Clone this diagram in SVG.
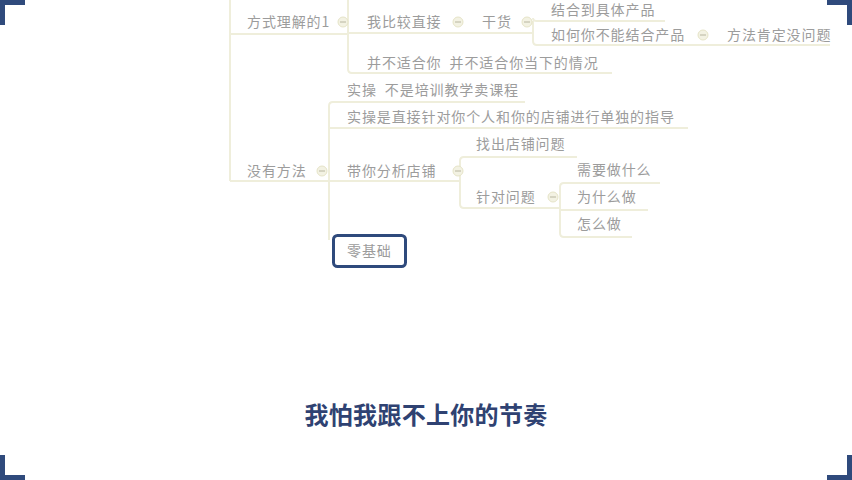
<svg xmlns="http://www.w3.org/2000/svg" width="852" height="480" viewBox="0 0 852 480">
<style>
.t{font-family:"Noto Sans CJK SC","Noto Sans",sans-serif;font-size:14px;fill:#9c9c9c;letter-spacing:0.9px;white-space:pre}
.ln{fill:none;stroke:#efeedb;stroke-width:2}
.c{fill:#f3f2e3;stroke:#e6e4c8;stroke-width:1}
.cm{stroke:#b8b6a0;stroke-width:1}
.br{fill:#2f4a7c}
</style>
<rect width="852" height="480" fill="#ffffff"/>
<g id="corners">
<path class="br" d="M0 0H25V5H5V25H0Z"/>
<path class="br" d="M852 0H827V5H847V25H852Z"/>
<path class="br" d="M0 480H25V475H5V455H0Z"/>
<path class="br" d="M852 480H827V475H847V455H852Z"/>
</g>
<g id="connectors">
<path class="ln" d="M230 0V181"/>
<path class="ln" d="M230 34H348"/>
<path class="ln" d="M348 0V69Q348 73 352 73H612"/>
<path class="ln" d="M348 33H533"/>
<path class="ln" d="M533 18Q533 21 537 21H665"/>
<path class="ln" d="M533 21V41Q533 45 537 45H830"/>
<path class="ln" d="M230 181H329"/>
<path class="ln" d="M333 102H525"/>
<path class="ln" d="M329 106Q329 102 333 102"/>
<path class="ln" d="M329 106V240"/>
<path class="ln" d="M329 128H688"/>
<path class="ln" d="M329 181H460"/>
<path class="ln" d="M460 161Q460 157 464 157H577"/>
<path class="ln" d="M460 161V204Q460 208 464 208H560"/>
<path class="ln" d="M560 187Q560 183 564 183H660"/>
<path class="ln" d="M560 187V233Q560 237 564 237H632"/>
<path class="ln" d="M560 210H648"/>
</g>
<g id="toggles">
<circle class="c" cx="343" cy="22" r="5"/><path class="cm" d="M340 22H346"/>
<circle class="c" cx="458" cy="22" r="5"/><path class="cm" d="M455 22H461"/>
<circle class="c" cx="527" cy="22" r="5"/><path class="cm" d="M524 22H530"/>
<circle class="c" cx="703" cy="35" r="5"/><path class="cm" d="M700 35H706"/>
<circle class="c" cx="322" cy="171" r="5"/><path class="cm" d="M319 171H325"/>
<circle class="c" cx="458" cy="171" r="5"/><path class="cm" d="M455 171H461"/>
<circle class="c" cx="553" cy="197" r="5"/><path class="cm" d="M550 197H556"/>
</g>
<g id="n1"><text class="t" x="247" y="27">方式理解的1</text></g>
<g id="n2"><text class="t" x="367" y="27">我比较直接</text></g>
<g id="n3"><text class="t" x="482" y="27">干货</text></g>
<g id="n4"><text class="t" x="551" y="15">结合到具体产品</text></g>
<g id="n5"><text class="t" x="551" y="40">如何你不能结合产品</text></g>
<g id="n6"><text class="t" x="727" y="40">方法肯定没问题</text></g>
<g id="n7"><text class="t" x="367" y="68" xml:space="preserve">并不适合你  并不适合你当下的情况</text></g>
<g id="n8"><text class="t" x="347" y="95" xml:space="preserve">实操  不是培训教学卖课程</text></g>
<g id="n9"><text class="t" x="347" y="122">实操是直接针对你个人和你的店铺进行单独的指导</text></g>
<g id="n10"><text class="t" x="247" y="176">没有方法</text></g>
<g id="n11"><text class="t" x="347" y="176">带你分析店铺</text></g>
<g id="n12"><text class="t" x="476" y="149">找出店铺问题</text></g>
<g id="n13"><text class="t" x="476" y="202">针对问题</text></g>
<g id="n14"><text class="t" x="577" y="175">需要做什么</text></g>
<g id="n15"><text class="t" x="577" y="202">为什么做</text></g>
<g id="n16"><text class="t" x="577" y="229">怎么做</text></g>
<g id="n17">
<rect x="333.5" y="235.5" width="72" height="31" rx="4" fill="#ffffff" stroke="#2f4a7c" stroke-width="3"/>
<text class="t" x="347" y="256">零基础</text>
</g>
<g id="subtitle"><text x="426" y="424" text-anchor="middle" font-family="'Noto Sans CJK SC',sans-serif" font-size="24" font-weight="bold" fill="#2f4272" letter-spacing="0.3">我怕我跟不上你的节奏</text></g>
</svg>
